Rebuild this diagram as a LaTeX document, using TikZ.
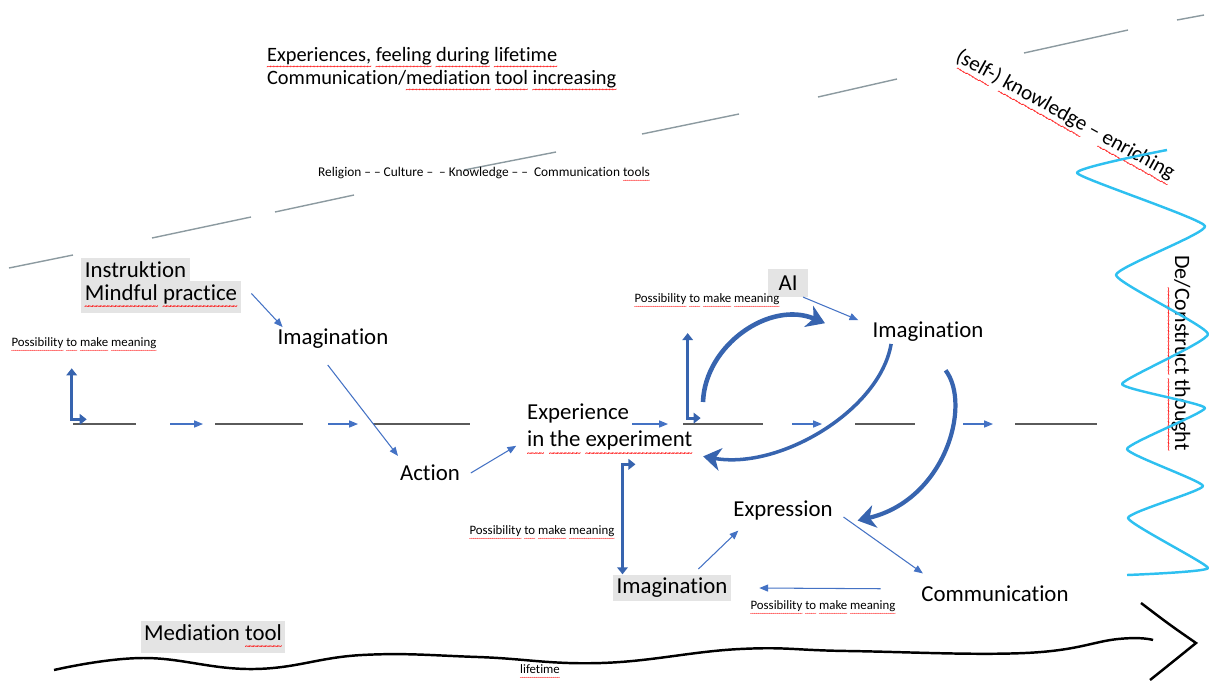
\documentclass[tikz,border=0pt]{standalone}
\usepackage{fontspec}
\setmainfont{Carlito}[Ligatures={TeX,NoCommon}]
\usetikzlibrary{arrows.meta}

\definecolor{flowblue}{HTML}{4472C4}
\definecolor{deepblue}{HTML}{3764AF}
\definecolor{zigblue}{HTML}{2EC0F0}
\definecolor{dashgray}{HTML}{8C9AA0}
\definecolor{linegray}{HTML}{5A5A5A}
\definecolor{hilite}{HTML}{E4E4E4}

% red wavy line under a word
\newcommand\spell[1]{\setbox0\hbox{#1}\edef\wavesize{\the\dimexpr.45em\relax}%
  \rlap{\lower.42em\hbox to \wd0{\color{red}\fontsize{\wavesize}{\wavesize}\selectfont
    \xleaders\hbox{\kern-.07em\char"7E\kern-.07em}\hfil}}#1}

\begin{document}
\begin{tikzpicture}[x=0.02cm, y=-0.02cm,
    every node/.style={inner sep=1pt},
    big/.style={font=\fontsize{13}{15.3}\selectfont},
    tiny/.style={font=\fontsize{7.3}{8}\selectfont},
    marked/.style={fill=hilite, inner sep=2pt},
    link/.style={flowblue, line width=0.6pt, -{Triangle[length=5pt,width=4pt]}},
    meaning/.style={deepblue, line width=1.7pt, {Triangle[length=4pt,width=6pt]}-{Triangle[length=4pt,width=6pt]}},
    swirl/.style={deepblue, line width=2.6pt, -{Stealth[length=10pt,width=13pt,inset=3pt]}},
    track/.style={linegray, line width=1.1pt},
    rule/.style={dashgray, line width=0.8pt}]
  \useasboundingbox (0,0) rectangle (1209,680);

  \foreach \a/\b/\c/\d in {9/268/73/255, 152/238/251/217, 275/212/354/195, 464/170/556/152,
      642/134/739/114, 818/97/897/79, 1024/53/1128/30, 1177/20/1204/15}
    \draw[rule] (\a,\b) -- (\c,\d);

  \node[anchor=west, align=left, font=\fontsize{11.6}{13}\selectfont] (life) at (265,70)
    {\spell{Experiences,} \spell{feeling} \spell{during} \spell{lifetime}\\
     Communication/\spell{mediation} \spell{tool} \spell{increasing}};
  \node[tiny, font=\fontsize{7.6}{8}\selectfont] (tools) at (484,175)
    {Religion -- -- Culture --\ \ -- Knowledge -- --\ \ Communication \spell{tools}};
  \node[rotate=-29, font=\fontsize{12}{14}\selectfont] (selfk) at (1064,117)
    {(\spell{self-}) \spell{knowledge} -- \spell{enriching}};
  \node[rotate=-90, font=\fontsize{12.5}{14}\selectfont] (decon) at (1178,353)
    {De/\spell{Construct} \spell{thought}};

  \draw[zigblue, line width=1.4pt, line join=round] plot[smooth, tension=0.25] coordinates {
    (1167,150) (1077,173) (1205,226) (1116,275) (1208,334) (1122,384) (1205,408)
    (1127,449) (1203,486) (1128,518) (1208,568) (1127,575)};

  \node[big, marked, anchor=west] (instr) at (81,270) {Instruktion\hspace{8pt}};
  \node[big, marked, anchor=west] (mind) at (81,297) {\spell{Mindful} \spell{practice}};
  \node[big] (imagL) at (333,339) {Imagination};
  \node[big] (action) at (430,473) {Action};
  \node[big, align=left, anchor=west] (exper) at (525,430)
    {Experience\\\spell{in} \spell{the} \spell{experiment}};
  \node[big, marked, minimum width=0.8cm, minimum height=0.55cm] (ai) at (788,283) {AI};
  \node[big] (imagR) at (928,332) {Imagination};
  \node[big] (expr) at (783,510) {Expression};
  \node[big, marked] (imagB) at (672,588) {Imagination};
  \node[big] (comm) at (995,594) {Communication};
  \node[big, marked] (medi) at (213,637) {Mediation \spell{tool}};
  \node[tiny] (lifet) at (540,672) {\spell{lifetime}};

  \node[tiny] (pm1) at (84,345) {\spell{Possibility} \spell{to} \spell{make} \spell{meaning}};
  \node[tiny] (pm2) at (707,301) {\spell{Possibility} \spell{to} \spell{make} \spell{meaning}};
  \node[tiny] (pm3) at (542,533) {\spell{Possibility} \spell{to} \spell{make} \spell{meaning}};
  \node[tiny] (pm4) at (823,608) {\spell{Possibility} \spell{to} \spell{make} \spell{meaning}};

  \foreach \a/\b in {73/136, 215/303, 373/470, 683/763, 855/915, 1015/1097}
    \draw[track] (\a,424) -- (\b,424);
  \foreach \a/\b in {170/203, 328/358, 632/668, 792/822, 963/993}
    \draw[link] (\a,424) -- (\b,424);

  \draw[link] ([xshift=6pt,yshift=2pt]mind.east) -- ([xshift=4pt]imagL.north west);
  \draw[link] ([xshift=-3pt,yshift=-8pt]imagL.south) -- ([yshift=4pt]action.north west);
  \draw[link] ([xshift=5pt]action.east) -- ([xshift=-5pt,yshift=-9pt]exper.west);
  \draw[link] ([xshift=-3pt]ai.south east) -- ([xshift=-7pt]imagR.north west);
  \draw[link] ([xshift=5pt,yshift=-4pt]expr.east) -- ([xshift=2pt,yshift=6pt]comm.north west);
  \draw[link] ([xshift=15pt,yshift=3pt]imagB.north) -- ([xshift=4pt,yshift=-5pt]expr.south west);
  \draw[link] ([xshift=-22pt,yshift=3pt]comm.west) -- ([xshift=16pt]imagB.east);

  \draw[meaning] ([xshift=-7pt,yshift=-8pt]pm1.south) |- ++(15,51);
  \draw[meaning] ([xshift=-11pt,yshift=-13pt]pm2.south) |- ++(13,85);
  \draw[meaning] ([xshift=5.5pt]imagB.north west) |- ++(13,-110);

  \coordinate (loopA) at (703,402);
  \draw[swirl] (loopA) .. controls (705,345) and (770,300) .. ([xshift=-26pt,yshift=5pt]imagR.west);
  \draw[swirl, line width=2pt] ([xshift=-21pt]imagR.south) .. controls (880,410) and (780,470) .. ([xshift=5pt,yshift=-15pt]exper.east);
  \draw[swirl, line width=2.4pt] ([xshift=10pt,yshift=-15pt]imagR.south) .. controls (972,405) and (945,500) .. ([xshift=13pt,yshift=-6pt]expr.east);

  \draw[line width=1.4pt] plot[smooth, tension=0.7] coordinates {
    (54,670) (143,658) (254,669) (362,655) (478,657) (601,663) (740,649) (848,651)
    (1025,653) (1118,639) (1153,640)};
  \draw[line width=1.4pt] (1141,603) .. controls (1170,625) .. (1196,643) .. controls (1175,660) .. (1150,680);
\end{tikzpicture}
\end{document}
